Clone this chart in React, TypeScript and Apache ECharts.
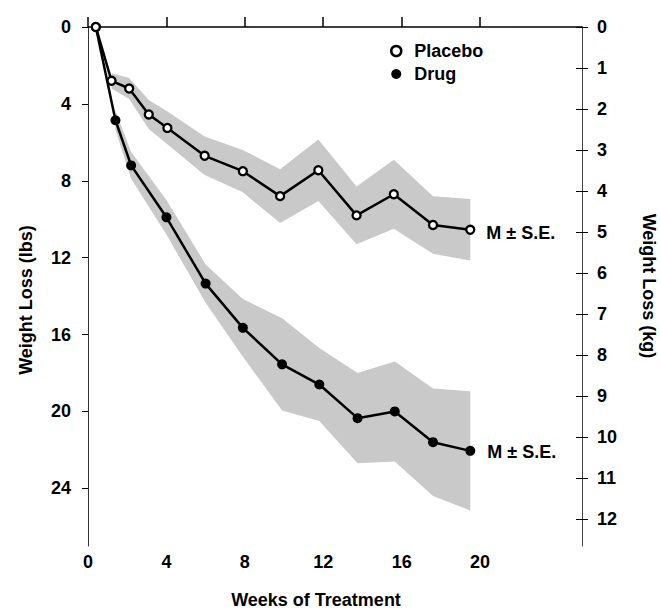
import React, { useEffect, useRef } from 'react';
import * as echarts from 'echarts';

// ---- data ----
const weeksPlacebo = [0.4, 1.2, 2.1, 3.1, 4.05, 5.95, 7.9, 9.8, 11.75, 13.7, 15.6, 17.6, 19.5];
const placeboMean = [0, 2.8, 3.2, 4.55, 5.25, 6.7, 7.5, 8.8, 7.45, 9.8, 8.7, 10.3, 10.55];
const placeboSE = [0, 0.4, 0.55, 0.75, 0.85, 1.0, 1.1, 1.4, 1.6, 1.5, 1.8, 1.5, 1.6];

const weeksDrug = [0.4, 1.4, 2.2, 4.0, 6.0, 7.9, 9.9, 11.8, 13.75, 15.65, 17.6, 19.5];
const drugMean = [0, 4.85, 7.2, 9.9, 13.35, 15.65, 17.55, 18.6, 20.35, 20.0, 21.6, 22.05];
const drugSE = [0, 0.5, 0.7, 0.9, 1.0, 1.5, 2.4, 1.9, 2.35, 2.6, 2.8, 3.1];

const weekTicks = [0, 4, 8, 12, 16, 20];
const lbsTicks = [0, 4, 8, 12, 16, 20, 24];
const kgTicks = [0, 1, 2, 3, 4, 5, 6, 7, 8, 9, 10, 11, 12];

const seriesNames = ['Placebo', 'Drug'];
const endLabelText = 'M ± S.E.';
const xTitle = 'Weeks of Treatment';
const yLeftTitle = 'Weight Loss (lbs)';
const yRightTitle = 'Weight Loss (kg)';

const FONT = '"Liberation Sans", Arial, Helvetica, sans-serif';

function makeBand(weeks: number[], mean: number[], se: number[], start: number) {
  return {
    type: 'custom',
    xAxisIndex: 0,
    yAxisIndex: 0,
    z: 1,
    silent: true,
    data: weeks.map((w, i) => [w, mean[i] - se[i], mean[i] + se[i]]),
    encode: { x: 0, y: [1, 2] },
    renderItem: (params: any, api: any) => {
      if (params.dataIndex !== 0) return null;
      const pts: number[][] = [];
      for (let i = start; i < weeks.length; i++) pts.push(api.coord([weeks[i], mean[i] - se[i]]));
      for (let i = weeks.length - 1; i >= start; i--) pts.push(api.coord([weeks[i], mean[i] + se[i]]));
      return {
        type: 'polygon',
        shape: { points: pts },
        style: { fill: '#c9c9c9', stroke: null },
      };
    },
  };
}

export default function App() {
  const ref = useRef<HTMLDivElement>(null);
  useEffect(() => {
    document.body.style.margin = '0';
    const chart = echarts.init(ref.current!, null, { renderer: 'svg' });
    const labelStyle = { fontSize: 18, fontWeight: 'bold', fontFamily: FONT, color: '#000' };
    const option: any = {
      animation: false,
      backgroundColor: '#fff',
      grid: { left: 88, right: 78, top: 27, bottom: 66, containLabel: false, outerBoundsMode: 'none' },
      legend: {
        orient: 'vertical',
        left: 385,
        top: 37,
        itemWidth: 10,
        itemHeight: 11,
        itemGap: 5,
        selectedMode: false,
        textStyle: { ...labelStyle, lineHeight: 18, padding: [0, 0, 0, 8] },
        data: [
          { name: seriesNames[0], icon: 'circle', itemStyle: { color: '#fff', borderColor: '#000', borderWidth: 2.5 } },
          { name: seriesNames[1], icon: 'circle', itemStyle: { color: '#000', borderWidth: 0 } },
        ],
      },
      xAxis: {
        type: 'value',
        min: 0,
        max: 25.2,
        interval: 4,
        axisLine: { show: true, lineStyle: { color: '#000', width: 1.5 } },
        axisTick: { show: true, inside: true, length: 10, customValues: weekTicks, lineStyle: { color: '#000', width: 1.5 } },
        axisLabel: { ...labelStyle, margin: 7, customValues: weekTicks },
        splitLine: { show: false },
      },
      yAxis: [
        {
          type: 'value',
          position: 'left',
          inverse: true,
          min: 0,
          max: 27,
          interval: 4,
          axisLine: { show: true, lineStyle: { color: '#333', width: 1 } },
          axisTick: { show: true, inside: false, length: 6, customValues: lbsTicks, lineStyle: { color: '#000', width: 1 } },
          axisLabel: { ...labelStyle, margin: 17, customValues: lbsTicks },
          splitLine: { show: false },
        },
        {
          type: 'value',
          position: 'right',
          inverse: true,
          min: 0,
          max: 12.66,
          interval: 1,
          axisLine: { show: true, lineStyle: { color: '#444', width: 1 } },
          axisTick: { show: true, inside: false, length: 6, customValues: kgTicks, lineStyle: { color: '#000', width: 1 } },
          axisLabel: { ...labelStyle, margin: 15, customValues: kgTicks },
          splitLine: { show: false },
        },
        {
          type: 'value',
          position: 'right',
          inverse: true,
          min: 0,
          max: 12.66,
          interval: 1,
          axisLine: { show: false },
          axisTick: { show: true, inside: true, length: 6, customValues: kgTicks, lineStyle: { color: '#000', width: 1 } },
          axisLabel: { show: false },
          splitLine: { show: false },
        },
      ],
      series: [
        makeBand(weeksPlacebo, placeboMean, placeboSE, 1),
        makeBand(weeksDrug, drugMean, drugSE, 1),
        {
          name: seriesNames[1],
          type: 'line',
          z: 3,
          data: weeksDrug.map((w, i) => [w, drugMean[i]]),
          symbol: 'circle',
          symbolSize: 10,
          showAllSymbol: true,
          lineStyle: { color: '#000', width: 2.5 },
          itemStyle: { color: '#000', borderWidth: 0 },
          endLabel: { show: true, formatter: endLabelText, distance: 17, offset: [0, 1], ...labelStyle },
        },
        {
          name: seriesNames[0],
          type: 'line',
          z: 4,
          data: weeksPlacebo.map((w, i) => [w, placeboMean[i]]),
          symbol: 'circle',
          symbolSize: 8,
          showAllSymbol: true,
          lineStyle: { color: '#000', width: 2.5 },
          itemStyle: { color: '#fff', borderColor: '#000', borderWidth: 2.3 },
          endLabel: { show: true, formatter: endLabelText, distance: 16, offset: [0, 3], ...labelStyle },
        },
      ],
      graphic: [
        {
          type: 'text',
          x: 316,
          y: 600,
          style: { text: xTitle, font: `bold 18px ${FONT}`, fill: '#000', textAlign: 'center', textVerticalAlign: 'middle' },
        },
        {
          type: 'text',
          x: 26,
          y: 300,
          rotation: Math.PI / 2,
          style: { text: yLeftTitle, font: `bold 18px ${FONT}`, fill: '#000', textAlign: 'center', textVerticalAlign: 'middle' },
        },
        {
          type: 'text',
          x: 649,
          y: 286,
          rotation: -Math.PI / 2,
          style: { text: yRightTitle, font: `bold 18px ${FONT}`, fill: '#000', textAlign: 'center', textVerticalAlign: 'middle' },
        },
      ],
    };
    chart.setOption(option);
    return () => chart.dispose();
  }, []);
  return <div ref={ref} style={{ width: 660, height: 612 }} />;
}
